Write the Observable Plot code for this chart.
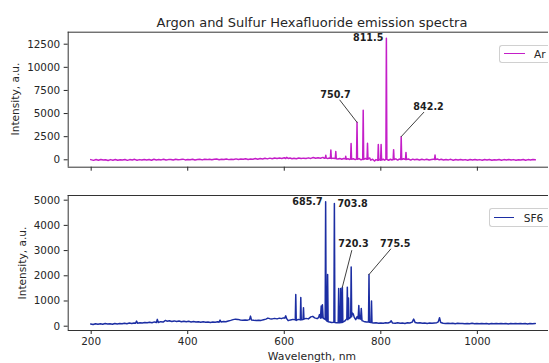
<!DOCTYPE html>
<html>
<head>
<meta charset="utf-8">
<script src="https://cdn.jsdelivr.net/npm/d3@7"></script>
<script src="https://cdn.jsdelivr.net/npm/@observablehq/plot@0.6"></script>
<style>
  html, body { margin: 0; padding: 0; background: #fff; overflow: hidden; }
  #wrap { position: relative; width: 549px; height: 363px; overflow: hidden; background: #fff; font-family: "DejaVu Sans", sans-serif; color: #262626; }
  .abs { position: absolute; white-space: nowrap; }
  .panel { position: absolute; left: 0; width: 548px; overflow: hidden; }
  .panel svg { max-width: none !important; }
  .legend { position: absolute; background: #fff; border: 1px solid #d0d0d0; border-right: none; border-radius: 3px 0 0 3px; box-sizing: border-box; }
  .legend .sw { position: absolute; height: 0; border-top-width: 1.8px; border-top-style: solid; }
  .legend .lt { position: absolute; font-size: 10.6px; line-height: 12px; }
</style>
</head>
<body>
<div id="wrap"></div>
<script>
// ---- data ----
const chartTitle = "Argon and Sulfur Hexafluoride emission spectra";
const xLabel = "Wavelength, nm";
const yLabel = "Intensity, a.u.";
const seriesNames = ["Ar", "SF6"];
const seriesColors = ["#c41ec8", "#1c2ea3"];

const xTicks = [200, 400, 600, 800, 1000];
const arTicks = [0, 2500, 5000, 7500, 10000, 12500];
const sf6Ticks = [0, 1000, 2000, 3000, 4000, 5000];

const xDomain = [152.4, 1166.6];
const arDomain = [-800, 13797];
const sf6Domain = [-171, 5186];

// [wavelength nm, intensity a.u.]
const arSpectrum = [
  [199,20],[205,-60],[210,30],[215,-40],[220,40],[225,-30],[230,10],[235,-70],[240,20],[245,-40],
  [250,30],[255,-50],[260,10],[265,-30],[270,40],[275,-60],[280,20],[285,-20],[290,50],[295,-40],
  [300,20],[305,-30],[310,40],[315,-10],[320,30],[325,-50],[330,60],[335,-20],[340,30],[345,-10],
  [350,50],[355,-30],[360,20],[365,40],[370,-20],[375,50],[380,0],[385,30],[390,70],[395,-10],
  [400,40],[405,10],[410,60],[415,-20],[420,30],[425,50],[430,-10],[435,60],[440,20],[445,70],
  [450,0],[455,50],[460,80],[465,10],[470,60],[475,30],[480,90],[485,20],[490,70],[495,40],
  [500,100],[505,30],[510,80],[515,50],[520,110],[525,40],[530,90],[535,70],[540,130],[545,60],
  [550,140],[555,90],[560,160],[565,100],[570,180],[575,120],[580,190],[585,140],[590,200],[595,150],
  [600,220],[603,140],[605,260],[608,150],[612,190],[616,120],[620,170],[625,110],[630,190],[635,130],
  [640,180],[645,140],[650,210],[655,150],[660,240],[665,170],[670,220],[675,160],[680,260],[683,170],
  [685,200],[686,480],[687,180],[690,150],[694,200],[695.5,160],[696.5,1050],[697.5,140],[701,180],
  [705.7,150],[706.7,900],[707.7,120],[711,90],[715,150],[719,60],[723,140],[726.3,100],[727.3,380],
  [728.3,70],[732,110],[735,40],[737.4,90],[738.4,1750],[739.4,60],[743,110],[747,20],[749.7,80],
  [750.7,4050],[751.7,50],[755,130],[759,0],[762.5,60],[763.5,5350],[764.5,40],[768,140],[771.4,50],
  [772.4,1800],[773.4,60],[777,200],[779,-40],[783,60],[787,-130],[790,20],[793.8,-60],[794.8,1650],
  [795.8,-40],[798,40],[799.6,-50],[800.6,1650],[801.6,-30],[805,60],[808,-40],[810.5,60],
  [811.5,13150],[812.5,40],[816,-50],[820,60],[823,-20],[825.5,40],[826.5,1100],[827.5,20],[831,100],
  [835,-30],[838,80],[841.2,40],[842.2,2500],[843.2,30],[847,110],[851.1,40],[852.1,800],[853.1,20],
  [857,90],[862,-30],[866,70],[870,0],[875,60],[880,-20],[885,50],[890,-10],[895,60],[900,-20],
  [905,40],[909,70],[911.3,30],[912.3,520],[913.3,20],[917,80],[921,-10],[925,50],[930,-30],[935,40],
  [940,-10],[945,50],[950,-40],[955,30],[960,-20],[965,40],[970,-30],[975,20],[980,-50],[985,30],
  [990,-10],[995,40],[1000,-30],[1005,20],[1010,-40],[1015,30],[1020,-20],[1025,40],[1030,-50],[1035,10],
  [1040,-20],[1045,30],[1050,-40],[1055,20],[1060,-10],[1065,40],[1070,-30],[1075,20],[1080,-50],[1085,10],
  [1090,-20],[1095,30],[1100,-40],[1105,20],[1110,-10],[1115,30],[1120,0]
];

const sf6Spectrum = [
  [199,90],[204,70],[209,100],[214,80],[219,95],[224,75],[229,105],[234,85],[239,100],[244,80],
  [249,110],[254,90],[259,105],[264,95],[269,120],[274,100],[279,125],[284,105],[289,130],[292,115],
  [294,200],[296,120],[301,140],[306,125],[311,150],[316,135],[321,160],[326,140],[331,170],[335,150],
  [337,270],[339,150],[344,180],[349,165],[354,230],[357,200],[362,215],[367,190],[372,210],[377,185],
  [382,205],[387,175],[392,200],[397,180],[402,195],[407,170],[412,185],[417,165],[422,180],[427,160],
  [432,175],[437,155],[442,170],[447,150],[452,165],[457,160],[462,175],[465,160],[467,240],[469,165],
  [474,185],[479,175],[484,205],[489,230],[494,260],[499,280],[504,270],[509,250],[514,235],[519,250],
  [524,240],[528,260],[530,400],[532,250],[537,235],[542,225],[547,240],[552,230],[557,255],[562,280],
  [566,320],[570,300],[575,290],[580,310],[585,290],[590,320],[594,300],[598,330],[601,320],[603,410],
  [605,300],[608,220],[613,250],[618,270],[622.8,250],[623.8,1260],[624.8,230],[629,270],[633.2,250],
  [634.2,1140],[635.2,260],[638.8,270],[639.8,730],[640.8,280],[645,310],[650,290],[655,370],[659,390],
  [663,330],[668,300],[671,340],[673,460],[675,320],[676.5,800],[677.5,330],[679,850],[680.5,330],
  [682,300],[684.7,270],[685.7,4940],[686.7,240],[688.8,200],[689.8,2050],[690.8,180],[694,170],
  [698,150],[702.8,155],[703.8,4870],[704.8,150],[708,140],[711.7,135],[712.7,1500],[713.7,140],
  [715.9,140],[716.9,1500],[717.9,150],[719.3,145],[720.3,1550],[721.3,160],[725,200],[729.6,300],
  [730.6,1550],[731.6,260],[733,1120],[734,300],[737.6,350],[738.6,2350],[739.6,380],[741,520],
  [743,480],[745,350],[748,260],[751,380],[753,300],[754.4,820],[755.6,300],[758,280],[759.5,700],
  [761,220],[765,190],[770,165],[774.5,170],[775.5,2050],[776.5,160],[779.7,150],[780.7,1000],
  [781.7,135],[785,125],[790,140],[795,115],[800,130],[805,120],[810,140],[815,125],[819,155],
  [821.5,215],[824,130],[830,115],[835,135],[840,120],[845,130],[850,110],[855,135],[860,125],
  [865,160],[868,280],[871,150],[876,125],[881,135],[886,115],[891,130],[896,110],[901,125],[906,115],
  [911,130],[916,140],[919,170],[921.6,335],[924,150],[929,120],[934,110],[939,120],[944,105],[949,115],
  [954,100],[959,115],[964,105],[969,110],[974,95],[979,110],[984,100],[989,115],[994,95],[999,110],
  [1004,100],[1009,110],[1014,95],[1019,105],[1024,90],[1029,110],[1034,100],[1039,105],[1044,95],
  [1049,110],[1054,100],[1059,105],[1064,90],[1069,110],[1074,100],[1079,105],[1084,95],[1089,110],
  [1094,100],[1099,105],[1104,90],[1109,110],[1114,100],[1120,105]
];

// annotations: label, text position (data units), tip (data units)
const arPeakLabels = [{label: "811.5", x: 811.5, y: 13150, anchor: "end"}];
const arArrowLabels = [
  {label: "750.7", x: 706.1, y: 7060, tipX: 750.7, tipY: 4050},
  {label: "842.2", x: 898.8, y: 5690, tipX: 842.2, tipY: 2500}
];
const sf6PeakLabels = [
  {label: "685.7", x: 685.7, y: 4940, anchor: "end"},
  {label: "703.8", x: 703.8, y: 4870, anchor: "start"}
];
const sf6ArrowLabels = [
  {label: "720.3", x: 743.4, y: 3270, tipX: 720.3, tipY: 1550},
  {label: "775.5", x: 829.8, y: 3270, tipX: 775.5, tipY: 2050}
];

// ---- drawing ----
const wrap = document.getElementById("wrap");
const baseStyle = {fontFamily: "DejaVu Sans, sans-serif", fontSize: "10.4px", color: "#262626",
  background: "transparent", maxWidth: "none"};
const frameColor = "#333";
const annFont = {fontFamily: "DejaVu Sans, sans-serif", fontSize: 9.6, fontWeight: "bold", fill: "#1e1e1e"};

function panel({data, color, yDomain, yTicks, height, mt, mb, showX, peaks, arrows}) {
  const svg = Plot.plot({
    width: 560, height,
    marginLeft: 67.7, marginRight: 2.7, marginTop: mt, marginBottom: mb,
    style: baseStyle,
    x: {domain: xDomain, ticks: xTicks, tickSize: 4, tickPadding: 3, label: null,
        tickFormat: showX ? "d" : () => ""},
    y: {domain: yDomain, ticks: yTicks, tickSize: 4, tickPadding: 4, label: null, tickFormat: "d"},
    marks: [
      Plot.ruleY([yDomain[0], yDomain[1]], {stroke: frameColor, strokeWidth: 1}),
      Plot.ruleX([xDomain[0]], {stroke: frameColor, strokeWidth: 1}),
      Plot.line(data, {x: d => d[0], y: d => d[1], stroke: color, strokeWidth: 1.5}),
      Plot.arrow(arrows, {x1: "x", y1: "y", x2: "tipX", y2: "tipY", headLength: 0, insetStart: 7,
        stroke: "#404040", strokeWidth: 1}),
      Plot.text(arrows, {x: "x", y: "y", text: "label", ...annFont}),
      Plot.text(peaks.filter(d => d.anchor === "end"), {x: "x", y: "y", text: "label",
        textAnchor: "end", dx: -3, ...annFont}),
      Plot.text(peaks.filter(d => d.anchor === "start"), {x: "x", y: "y", text: "label",
        textAnchor: "start", dx: 3, ...annFont}),
    ]
  });
  svg.style.maxWidth = "none";
  svg.style.width = "560px";
  svg.style.height = height + "px";
  return svg;
}

const topPanel = document.createElement("div");
topPanel.className = "panel"; topPanel.style.top = "0px"; topPanel.style.height = "180px";
topPanel.appendChild(panel({data: arSpectrum, color: seriesColors[0], yDomain: arDomain, yTicks: arTicks,
  height: 180, mt: 31.7, mb: 13.3, showX: false, peaks: arPeakLabels, arrows: arArrowLabels}));
wrap.appendChild(topPanel);

const botPanel = document.createElement("div");
botPanel.className = "panel"; botPanel.style.top = "180px"; botPanel.style.height = "183px";
botPanel.appendChild(panel({data: sf6Spectrum, color: seriesColors[1], yDomain: sf6Domain, yTicks: sf6Ticks,
  height: 183, mt: 15, mb: 33, showX: true, peaks: sf6PeakLabels, arrows: sf6ArrowLabels}));
wrap.appendChild(botPanel);

// title and axis labels
function addText(txt, cx, cy, size, rotate) {
  const d = document.createElement("div");
  d.className = "abs";
  d.textContent = txt;
  d.style.left = cx + "px"; d.style.top = cy + "px";
  d.style.fontSize = size + "px"; d.style.lineHeight = "1";
  d.style.transform = "translate(-50%,-50%)" + (rotate ? " rotate(-90deg)" : "");
  wrap.appendChild(d);
}
addText(chartTitle, 312, 21.7, 13, false);
addText(xLabel, 312, 357, 10.8, false);
addText(yLabel, 15, 99.2, 10.6, true);
addText(yLabel, 21.7, 262.5, 10.6, true);

// legends (right border lies beyond the picture, as in the reference)
function addLegend(name, color, box, sw, tx) {
  const lg = document.createElement("div");
  lg.className = "legend";
  lg.style.left = box[0] + "px"; lg.style.top = box[1] + "px";
  lg.style.width = (box[2] - box[0]) + "px"; lg.style.height = (box[3] - box[1]) + "px";
  const s = document.createElement("div");
  s.className = "sw"; s.style.borderTopColor = color;
  s.style.left = (sw[0] - box[0]) + "px"; s.style.width = (sw[1] - sw[0]) + "px";
  s.style.top = ((box[3] - box[1]) / 2 - 1.9) + "px";
  const t = document.createElement("div");
  t.className = "lt"; t.textContent = name;
  t.style.left = (tx - box[0]) + "px"; t.style.top = ((box[3] - box[1]) / 2 - 7) + "px";
  lg.appendChild(s); lg.appendChild(t);
  wrap.appendChild(lg);
}
addLegend(seriesNames[0], seriesColors[0], [499, 45, 548, 63.3], [502.7, 524], 533);
addLegend(seriesNames[1], seriesColors[1], [489.3, 208.3, 548, 227.3], [492.7, 513.3], 522.7);
</script>
</body>
</html>
